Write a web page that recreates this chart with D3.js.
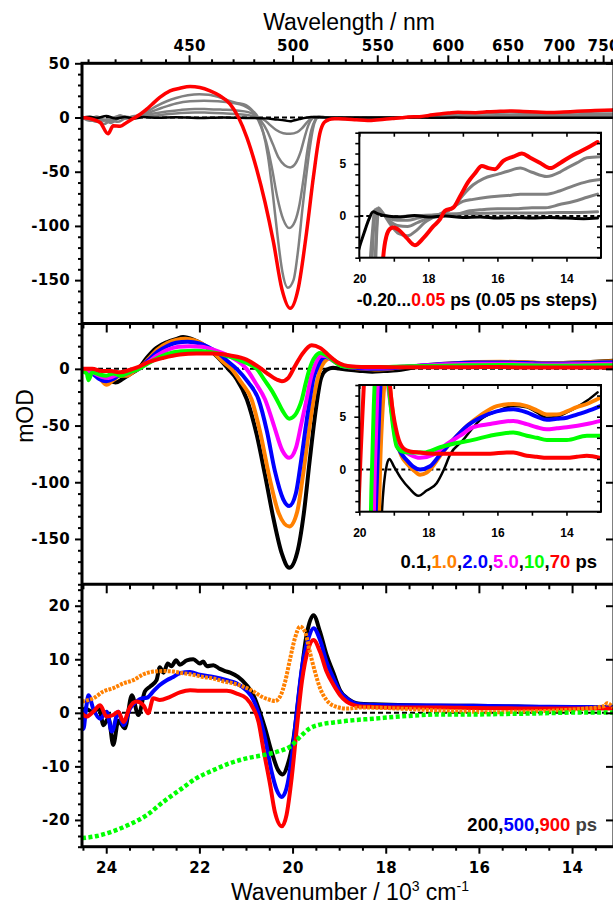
<!DOCTYPE html>
<html><head><meta charset="utf-8">
<script src="https://cdn.jsdelivr.net/npm/d3@7"></script>
<style>
body{margin:0;background:#fff}
svg{display:block}
.tk text{font-family:"DejaVu Sans",sans-serif;font-weight:bold;font-size:15px;letter-spacing:0.3px;fill:#000}
.tk line{stroke:#000;stroke-width:2}
.ti text{font-family:"Liberation Sans",Arial,sans-serif;font-weight:bold;font-size:12px;fill:#000}
.ti line{stroke:#000;stroke-width:1.6}
</style>
</head><body>
<svg id="c" width="613" height="905"></svg>
<script>
// ---------- tick labels ----------
const kMajor = [24, 22, 20, 18, 16, 14];
const lamMajor = [450, 500, 550, 600, 650, 700, 750];
const y1Major = [50, 0, -50, -100, -150];
const y2Major = [0, -50, -100, -150];
const y3Major = [20, 10, 0, -10, -20];
const insetKLabels = [20, 18, 16, 14];
const insetKTicks = [20, 19, 18, 17, 16, 15, 14];
const insetYLabels = [0, 5];

// ---------- panel 1 : -0.20 ... 0.05 ps  ([wavenumber/1e3 cm-1, mOD]) ----------
const p1Black = [[24.52,0],[24.35,0.8],[24.2,-0.5],[24.0,1.5],[23.8,-1],[23.6,0.5],[23.4,-0.8],[23.2,0.4],[22.9,-0.3],[22.5,0.3],[22.0,-0.5],[21.5,0],[21.0,-0.4],[20.6,-0.8],[20.35,-1.8],[20.15,-2.8],[20.05,-3.5],[19.98,-2.8],[19.85,-1.5],[19.72,-0.3],[19.6,0.4],[19.45,0.2],[19.2,0],[18.8,-0.1],[18.4,0.05],[18.0,-0.1],[17.5,0],[17.0,-0.15],[16.5,-0.1],[16.0,-0.2],[15.5,-0.15],[15.0,-0.2],[14.5,-0.15],[14.0,-0.2],[13.5,-0.25],[13.1,-0.2]];
const p1Gray15 = [[24.52,0],[24.35,-1],[24.2,1],[24.05,-2],[23.85,-1],[23.7,2],[23.55,-0.5],[23.4,0.5],[23.2,1],[23.0,1.5],[22.7,3],[22.4,4.2],[22.1,4.6],[21.8,4.5],[21.5,4],[21.2,3.2],[20.95,2.2],[20.75,0.5],[20.6,-2.5],[20.48,-7],[20.35,-11.5],[20.2,-14.5],[20.05,-15],[19.9,-13.5],[19.8,-10],[19.7,-5],[19.62,-1.5],[19.55,0.6],[19.45,0.5],[19.3,0.1],[19.0,-0.1],[18.6,0],[18.2,0.05],[17.8,0.1],[17.2,0.2],[16.6,0.25],[16.0,0.3],[15.4,0.3],[14.8,0.3],[14.2,0.35],[13.6,0.35],[13.1,0.4]];
const p1Gray46 = [[24.52,0],[24.35,-2],[24.2,0],[24.05,-3],[23.9,-1],[23.75,1],[23.6,-1],[23.45,1],[23.25,2],[23.0,3.5],[22.7,5.5],[22.4,7],[22.1,7.8],[21.8,7.7],[21.5,7.2],[21.2,6.5],[20.95,5],[20.8,2],[20.68,-3],[20.55,-12],[20.42,-25],[20.3,-37],[20.17,-44],[20.05,-46],[19.93,-42],[19.83,-32],[19.74,-18],[19.66,-7],[19.58,-1],[19.5,0.7],[19.38,0.3],[19.15,-0.2],[18.9,-0.4],[18.6,-0.4],[18.3,-0.2],[18.0,0],[17.5,0.2],[17.18,0.2],[16.8,0.5],[16.5,0.6],[16.0,0.7],[15.5,0.7],[15.0,0.8],[14.6,0.8],[14.2,1.1],[13.8,1.4],[13.4,1.8],[13.1,2.1]];
const p1Gray102 = [[24.52,0],[24.35,-2],[24.2,-4],[24.05,-2],[23.9,-5],[23.75,-1],[23.6,1],[23.45,0],[23.25,2],[23.05,5],[22.8,9],[22.5,13],[22.2,15],[21.9,15.5],[21.6,15],[21.3,13.5],[21.05,11],[20.9,7],[20.78,1],[20.68,-8],[20.57,-22],[20.45,-45],[20.33,-73],[20.2,-94],[20.07,-102],[19.95,-96],[19.85,-80],[19.76,-55],[19.68,-30],[19.6,-12],[19.52,-2.5],[19.45,0.8],[19.35,0.4],[19.15,-0.4],[18.9,-0.9],[18.6,-1.0],[18.3,-0.6],[18.0,-0.2],[17.66,0],[17.3,0.8],[17.0,1.4],[16.7,1.6],[16.3,1.8],[16.0,1.9],[15.6,2.0],[15.34,2.1],[14.9,2.1],[14.57,2.1],[14.2,2.4],[13.8,2.9],[13.4,3.3],[13.02,3.5]];
const p1Gray158 = [[24.52,0],[24.35,-3],[24.2,-2],[24.05,-6],[23.9,-3],[23.75,-4],[23.6,-1],[23.45,0],[23.3,2],[23.1,6],[22.9,11],[22.7,15],[22.5,18],[22.25,20.5],[22.0,21.5],[21.8,21],[21.6,19],[21.4,16],[21.2,13.5],[21.0,11.5],[20.85,6],[20.74,0],[20.64,-12],[20.53,-35],[20.42,-72],[20.32,-110],[20.22,-142],[20.1,-157],[19.98,-150],[19.88,-122],[19.79,-85],[19.71,-55],[19.63,-28],[19.56,-10],[19.5,-2],[19.43,0.7],[19.3,0.2],[19.1,-0.8],[18.85,-1.7],[18.6,-1.9],[18.35,-1.4],[18.1,-0.6],[17.85,-0.1],[17.6,0.3],[17.28,0.8],[17.0,2.0],[16.7,3.0],[16.4,3.6],[16.0,4.0],[15.7,4.3],[15.34,4.6],[15.0,4.2],[14.57,3.8],[14.2,4.2],[13.99,4.6],[13.7,5.1],[13.41,5.6],[13.02,5.7]];
const p1Red = [[24.52,0],[24.35,-1],[24.13,-4.6],[23.96,-15],[23.85,-7.7],[23.7,-8],[23.56,-4.6],[23.42,-1],[23.27,3],[23.13,7.7],[23.02,12],[22.85,18.5],[22.63,24.6],[22.42,27],[22.2,28.6],[21.99,27.7],[21.77,24.6],[21.56,20],[21.34,12.3],[21.16,0],[20.98,-18.5],[20.77,-47.7],[20.59,-78.4],[20.41,-115],[20.23,-158],[20.05,-176],[19.88,-158],[19.7,-106],[19.55,-54],[19.41,-14],[19.32,-4.5],[19.22,-2],[19.1,-1.2],[19.01,-1.1],[18.87,-1.3],[18.63,-2.1],[18.39,-2.8],[18.14,-2.1],[17.86,-1.0],[17.66,-0.3],[17.52,0.5],[17.28,0.8],[17.08,1.9],[16.84,3.3],[16.65,4.1],[16.45,4.8],[16.26,4.6],[16.07,4.5],[15.83,5.3],[15.54,5.7],[15.29,6.0],[15.05,5.6],[14.76,5.1],[14.47,4.6],[14.18,5.1],[13.89,5.7],[13.6,6.2],[13.31,6.7],[13.1,7.1]];

// ---------- panel 2 : 0.1, 1.0, 2.0, 5.0, 10, 70 ps ----------
const p2Black = [[24.52,0],[24.3,-2],[24.1,-6],[23.95,-10],[23.8,-12],[23.65,-9],[23.5,-5],[23.31,0],[23.13,9.7],[22.92,18.5],[22.7,23.5],[22.49,26.4],[22.35,28],[22.13,25.8],[21.92,21.4],[21.7,14],[21.49,5.3],[21.38,0],[21.2,-9],[20.98,-27],[20.77,-58],[20.59,-94],[20.41,-132],[20.23,-163],[20.07,-175.5],[19.9,-162],[19.76,-128],[19.63,-80],[19.53,-45],[19.47,-27],[19.4,-10],[19.35,-4.5],[19.28,-1.2],[19.2,0.5],[19.13,1.0],[19.0,0.3],[18.8,-0.8],[18.55,-1.8],[18.29,-2.5],[18.05,-2.0],[17.76,-1.3],[17.55,0],[17.37,1.4],[16.99,2.8],[16.75,3.8],[16.5,4.7],[16.02,5.5],[15.54,6.0],[15.15,5.9],[14.86,5.4],[14.57,4.9],[14.28,5.0],[13.99,5.4],[13.7,5.9],[13.41,6.5],[13.1,7.3]];
const p2Orange = [[24.52,-1],[24.35,-3],[24.15,-8],[23.99,-14],[23.85,-10],[23.7,-6],[23.55,-6],[23.4,-2],[23.3,0],[23.1,8.5],[22.9,17],[22.7,22.5],[22.5,25.5],[22.3,26.5],[22.1,25],[21.9,21],[21.7,14.5],[21.5,6.5],[21.31,0],[21.1,-12],[20.88,-27],[20.7,-55],[20.5,-95],[20.3,-127],[20.07,-139],[19.9,-126],[19.78,-95],[19.66,-58],[19.55,-27],[19.47,-10],[19.4,0],[19.32,6],[19.22,9],[19.12,8],[19.02,5],[18.92,2.8],[18.78,1.3],[18.63,0.6],[18.45,0],[18.24,-0.5],[18.05,-0.3],[17.85,0.4],[17.66,1.3],[17.28,2.8],[16.89,4.1],[16.5,5.1],[16.02,6.0],[15.54,6.2],[15.15,6.0],[14.86,5.6],[14.57,5.2],[14.28,5.2],[13.99,5.5],[13.7,5.9],[13.41,6.2],[13.02,6.8]];
const p2Blue = [[24.52,0],[24.3,-4],[24.15,-9],[24.0,-11],[23.85,-9],[23.7,-5],[23.55,-4],[23.4,-1],[23.3,0],[23.1,7.5],[22.9,15],[22.7,20],[22.5,23],[22.25,24],[22.0,22.5],[21.8,19],[21.6,14],[21.4,7],[21.2,0],[20.95,-12],[20.73,-27],[20.55,-55],[20.38,-90],[20.2,-115],[20.07,-121],[19.93,-110],[19.82,-82],[19.72,-52],[19.63,-27],[19.55,-8],[19.48,0],[19.4,7],[19.3,10.5],[19.2,9.5],[19.08,6],[18.92,2.5],[18.78,1.5],[18.63,0.9],[18.45,0.3],[18.24,0],[17.95,0.3],[17.66,1.4],[17.28,2.8],[16.89,4.1],[16.5,4.9],[16.02,5.5],[15.54,5.7],[15.15,5.4],[14.86,5.0],[14.57,4.7],[14.28,4.8],[13.99,4.9],[13.7,5.2],[13.41,5.5],[13.02,6.0]];
const p2Magenta = [[24.52,-1],[24.3,-3],[24.1,-7],[23.95,-8],[23.8,-6],[23.6,-5],[23.45,-2],[23.3,0],[23.1,6],[22.9,12],[22.7,16.5],[22.45,19.5],[22.2,20],[21.95,19.5],[21.7,17],[21.5,14],[21.3,10],[21.1,4.5],[20.99,0],[20.8,-12],[20.59,-27],[20.4,-50],[20.22,-72],[20.07,-78.5],[19.93,-70],[19.82,-50],[19.7,-27],[19.62,-10],[19.55,0],[19.48,7],[19.38,11.5],[19.28,11],[19.15,7.5],[19.0,4],[18.92,2.4],[18.73,1.8],[18.53,1.4],[18.24,1.1],[17.86,1.4],[17.47,2.4],[17.08,3.2],[16.7,4.0],[16.21,4.3],[15.54,4.6],[15.15,4.3],[14.86,4.0],[14.57,3.8],[14.28,3.9],[13.99,4.0],[13.41,4.3],[13.02,4.6]];
const p2Green = [[24.52,-2],[24.42,-4],[24.38,-10],[24.3,-3],[24.15,-5],[24.0,-6],[23.85,-4],[23.7,-6],[23.5,-3],[23.3,0],[23.1,5],[22.9,9.5],[22.7,13],[22.4,15.5],[22.1,16],[21.8,15],[21.5,12.5],[21.34,10.5],[21.15,8],[20.99,5.3],[20.85,2.5],[20.77,0],[20.6,-10],[20.45,-19],[20.34,-27],[20.2,-38],[20.07,-44],[19.95,-41],[19.87,-35],[19.8,-27],[19.72,-13],[19.65,-2],[19.58,6],[19.5,11.5],[19.42,14],[19.3,12.5],[19.15,8],[19.02,4],[18.92,2.2],[18.75,1.7],[18.53,1.6],[18.14,1.6],[17.66,2.1],[17.18,2.5],[16.7,2.8],[16.21,3.2],[15.54,3.5],[15.15,3.2],[14.86,3.0],[14.57,2.8],[14.28,2.8],[13.99,2.8],[13.41,3.2],[13.02,3.2]];
const p2Red = [[24.52,0],[24.3,0],[24.1,-2],[23.9,-2],[23.7,-3],[23.5,-1],[23.35,1],[23.13,5.3],[22.77,9.7],[22.42,12.6],[22.06,13.5],[21.7,13.5],[21.34,11.8],[20.99,8.2],[20.7,0.8],[20.56,-3.5],[20.34,-9.4],[20.23,-10.9],[20.09,-7.9],[19.95,2.3],[19.8,12.6],[19.59,20.8],[19.41,18.5],[19.2,11],[19.05,6],[18.9,3.3],[18.72,2.0],[18.53,1.7],[18.24,1.6],[17.86,1.5],[17.47,1.5],[17.08,1.5],[16.7,1.5],[16.21,1.5],[15.73,1.6],[15.54,1.6],[15.15,1.3],[14.86,1.2],[14.57,1.1],[14.28,1.1],[13.99,1.1],[13.7,1.2],[13.41,1.3],[13.02,1.1]];

// ---------- panel 3 : 200, 500, 900 ps + two reference spectra ----------
const p3Black = [[24.52,-0.3],[24.46,0.8],[24.28,0.2],[24.15,0.8],[24.06,-2.3],[23.95,-1],[23.85,-6.0],[23.74,-1.5],[23.6,-2.9],[23.45,3.3],[23.31,-0.4],[23.17,4.0],[23.06,4.9],[22.92,6.1],[22.85,8.5],[22.77,7.5],[22.68,9.2],[22.6,8.7],[22.5,9.8],[22.42,9.0],[22.27,9.8],[22.13,10.0],[21.99,9.2],[21.92,9.6],[21.84,8.7],[21.7,8.9],[21.56,8.2],[21.45,7.8],[21.34,7.5],[21.17,6.7],[20.99,5.2],[20.84,3.3],[20.73,0.8],[20.59,-2.9],[20.45,-7.3],[20.31,-10.7],[20.21,-11.5],[20.11,-9.8],[19.98,-4.8],[19.84,5.2],[19.7,14.5],[19.55,18.2],[19.41,15.1],[19.27,10.8],[19.12,7.4],[18.98,4.2],[18.84,2.8],[18.7,2.0],[18.55,1.7],[18.27,1.6],[17.55,1.4],[16.83,1.3],[16.12,1.3],[15.4,1.2],[14.69,1.1],[13.97,1.1],[13.12,1.0]];
const p3Blue = [[24.52,0.5],[24.49,-3],[24.43,1],[24.38,3.3],[24.28,0.8],[24.13,-1.1],[23.99,0.2],[23.88,-3.5],[23.74,0.2],[23.63,-2.3],[23.49,0.8],[23.35,2.1],[23.24,2.7],[23.13,2.8],[22.99,4.0],[22.85,5.2],[22.7,6.1],[22.56,6.7],[22.42,7.4],[22.2,7.6],[21.99,7.1],[21.7,6.7],[21.41,6.1],[21.2,5.5],[20.99,4.2],[20.84,2.4],[20.73,-0.1],[20.59,-4.8],[20.45,-11],[20.34,-14.4],[20.23,-15.7],[20.13,-14.1],[20.02,-8.5],[19.91,0.2],[19.8,8.3],[19.66,13.9],[19.55,15.8],[19.41,13.6],[19.27,9.5],[19.12,6.4],[18.98,3.9],[18.84,2.7],[18.7,1.9],[18.55,1.6],[18.27,1.5],[17.55,1.4],[16.83,1.35],[16.12,1.3],[15.4,1.25],[14.69,1.15],[13.97,1.1],[13.12,1.05]];
const p3Red = [[24.52,-0.1],[24.42,-0.7],[24.28,0.2],[24.13,1.4],[23.99,-0.7],[23.85,-0.4],[23.74,0.2],[23.63,-1.7],[23.49,1.1],[23.35,2.1],[23.2,1.4],[23.1,-0.1],[22.99,2.7],[22.85,2.4],[22.63,3.0],[22.42,3.8],[22.2,4.2],[21.99,4.1],[21.7,4.1],[21.41,4.1],[21.2,3.6],[20.99,2.7],[20.84,0.8],[20.73,-1.7],[20.63,-6.6],[20.48,-13.5],[20.38,-18.5],[20.23,-21.2],[20.13,-19.1],[20.02,-12.2],[19.91,-2.9],[19.8,5.8],[19.66,12.0],[19.55,13.6],[19.41,11.4],[19.27,7.7],[19.12,5.2],[18.98,3.3],[18.84,2.1],[18.7,1.5],[18.55,1.2],[18.27,1.1],[17.55,1.0],[16.83,1.0],[16.12,0.9],[15.4,0.85],[14.69,0.8],[13.97,0.8],[13.12,0.8]];
const p3Orange = [[24.52,2.1],[24.42,2.3],[24.28,2.7],[24.06,4.0],[23.85,4.6],[23.63,5.5],[23.42,6.1],[23.2,7.2],[22.99,7.7],[22.77,7.8],[22.56,7.7],[22.35,7.4],[22.13,7.1],[21.92,6.7],[21.7,6.4],[21.49,5.9],[21.27,5.5],[21.06,4.9],[20.84,4.0],[20.66,3.0],[20.48,2.4],[20.38,2.2],[20.27,3.0],[20.16,5.8],[20.05,10.2],[19.95,13.9],[19.84,16.1],[19.73,15.1],[19.63,11.4],[19.52,7.7],[19.41,4.6],[19.27,2.4],[19.05,1.1],[18.84,0.8],[18.5,1.0],[18.0,0.9],[17.5,0.7],[17.0,0.5],[16.5,0.3],[16.12,0.2],[15.7,0.1],[15.2,0.2],[14.69,0.3],[14.2,0.5],[13.7,0.8],[13.3,1.3],[13.25,1.8],[13.12,1.0]];
const p3Green = [[24.52,-23.4],[24.2,-23],[23.85,-22.1],[23.49,-20.8],[23.13,-19.1],[22.77,-16.6],[22.42,-14.4],[22.06,-12.2],[21.7,-10.7],[21.34,-9.4],[20.99,-8.5],[20.63,-7.9],[20.27,-7.1],[20.05,-6.3],[19.84,-4.5],[19.63,-2.9],[19.41,-2.2],[19.12,-1.8],[18.84,-1.5],[18.27,-1.1],[17.55,-0.6],[16.83,-0.3],[16.12,-0.3],[15.4,-0.2],[14.69,-0.1],[13.97,0.05],[13.12,0.05]];

// ---------- legends ----------
const legend1 = [["-0.20...", "#000"], ["0.05", "#ff0000"], [" ps (0.05 ps steps)", "#000"]];
const legend2 = [["0.1,", "#000"], ["1.0", "#ff8000"], [",", "#000"], ["2.0", "#0000ff"], [",", "#000"], ["5.0", "#ff00ff"], [",", "#000"], ["10", "#00ff00"], [",", "#000"], ["70", "#ff0000"], [" ps", "#000"]];
const legend3 = [["200", "#000"], [",", "#000"], ["500", "#0000ff"], [",", "#000"], ["900", "#ff0000"], [" ps", "#404040"]];

// ================= drawing =================
const svg = d3.select("#c");
const L = 82, R = 614;
const P = [
  {top: 63.3, bot: 323.5, dom: [-190, 50], major: y1Major, minorStep: 10},
  {top: 323.5, bot: 584.3, dom: [-190, 40], major: y2Major, minorStep: 10},
  {top: 584.3, bot: 846.7, dom: [-25, 24], major: y3Major, minorStep: 2}
];
const x = d3.scaleLinear().domain([24.52, 13.1]).range([L, R]);
P.forEach(p => p.y = d3.scaleLinear().domain(p.dom).range([p.bot, p.top]));

const defs = svg.append("defs");
function clip(id, x0, y0, w, h) {
  defs.append("clipPath").attr("id", id).append("rect").attr("x", x0).attr("y", y0).attr("width", w).attr("height", h);
}
function clean(g) { g.select(".domain").remove(); }

function drawSeries(g, data, xs, ys, color, width, dash) {
  const line = d3.line().x(d => xs(d[0])).y(d => ys(d[1])).curve(d3.curveMonotoneX);
  const path = g.append("path").datum(data).attr("d", line)
    .attr("fill", "none").attr("stroke", color).attr("stroke-width", width)
    .attr("stroke-linejoin", "round");
  if (dash) path.attr("stroke-dasharray", dash).attr("stroke-linecap", "butt");
  else path.attr("stroke-linecap", "round");
}

const panelSeries = [
  [[p1Gray15,"#808080",2.5],[p1Gray46,"#808080",2.5],[p1Gray102,"#808080",2.5],[p1Gray158,"#808080",2.5],[p1Black,"#000",2.5],[p1Red,"#ff0000",3.5]],
  [[p2Black,"#000",4],[p2Orange,"#ff8000",4],[p2Blue,"#0000ff",4],[p2Magenta,"#ff00ff",4],[p2Green,"#00ff00",4],[p2Red,"#ff0000",4]],
  [[p3Black,"#000",4],[p3Blue,"#0000ff",4],[p3Red,"#ff0000",4],[p3Orange,"#ff8000",4,"3,1.2"],[p3Green,"#00ff00",4.5,"4,2.5"]]
];

P.forEach((p, i) => {
  clip("cp" + i, L, p.top, R - L, p.bot - p.top);
  svg.append("line").attr("x1", L).attr("x2", R).attr("y1", p.y(0)).attr("y2", p.y(0))
    .attr("stroke", "#000").attr("stroke-width", 2).attr("stroke-dasharray", "5,3");
  const g = svg.append("g").attr("clip-path", `url(#cp${i})`);
  panelSeries[i].forEach(s => drawSeries(g, s[0], x, p.y, s[1], s[2], s[3]));
  const minor = d3.range(p.dom[0], p.dom[1] + 0.001, p.minorStep).filter(v => !p.major.includes(v));
  svg.append("g").attr("class", "tk").attr("transform", `translate(${L},0)`)
    .call(d3.axisLeft(p.y).tickValues(minor).tickSize(4).tickFormat("")).call(clean);
  svg.append("g").attr("class", "tk").attr("transform", `translate(${L},0)`)
    .call(d3.axisLeft(p.y).tickValues(p.major).tickSize(7).tickPadding(5).tickFormat(d => String(d))).call(clean);
  svg.append("g").attr("class", "tk").attr("transform", `translate(${R},0)`)
    .call(d3.axisLeft(p.y).tickValues(p.major).tickSize(8).tickFormat("")).call(clean);
});

const kMinor = d3.range(13.5, 24.51, 0.5).filter(v => !kMajor.includes(v));
[P[1].top, P[2].top].forEach(yy => {
  svg.append("g").attr("class", "tk").attr("transform", `translate(0,${yy})`)
    .call(d3.axisBottom(x).tickValues(kMinor).tickSize(5).tickFormat("")).call(clean);
  svg.append("g").attr("class", "tk").attr("transform", `translate(0,${yy})`)
    .call(d3.axisBottom(x).tickValues(kMajor).tickSize(9).tickFormat("")).call(clean);
});
svg.append("g").attr("class", "tk").attr("transform", `translate(0,${P[2].bot})`)
  .call(d3.axisBottom(x).tickValues(kMinor).tickSize(4).tickFormat("")).call(clean);
svg.append("g").attr("class", "tk").attr("transform", `translate(0,${P[2].bot})`)
  .call(d3.axisBottom(x).tickValues(kMajor).tickSize(7).tickPadding(9).tickFormat(d => String(d))).call(clean);

const lamMinor = d3.range(410, 770, 10).filter(v => !lamMajor.includes(v));
svg.append("g").attr("class", "tk").attr("transform", `translate(0,${P[0].top})`)
  .call(d3.axisTop(x).tickValues(lamMinor.map(l => 1e4 / l)).tickSize(4).tickFormat("")).call(clean);
svg.append("g").attr("class", "tk").attr("transform", `translate(0,${P[0].top})`)
  .call(d3.axisTop(x).tickValues(lamMajor.map(l => 1e4 / l)).tickSize(8).tickPadding(4)
    .tickFormat(k => String(Math.round(1e4 / k)))).call(clean);

svg.append("rect").attr("x", L).attr("y", P[0].top).attr("width", R - L).attr("height", P[2].bot - P[0].top)
  .attr("fill", "none").attr("stroke", "#000").attr("stroke-width", 3);
[P[1].top, P[2].top].forEach(yy => svg.append("line").attr("x1", L).attr("x2", R).attr("y1", yy).attr("y2", yy)
  .attr("stroke", "#000").attr("stroke-width", 3));

// ---------- insets ----------
const xi = d3.scaleLinear().domain([20, 13]).range([359.3, 601]);
function inset(id, y0, y1, series) {
  const yi = d3.scaleLinear().domain([-4, 8]).range([y1, y0]);
  const x0 = xi.range()[0], x1 = xi.range()[1];
  svg.append("rect").attr("x", x0).attr("y", y0).attr("width", x1 - x0).attr("height", y1 - y0).attr("fill", "#fff");
  clip(id, x0, y0, x1 - x0, y1 - y0);
  svg.append("line").attr("x1", x0).attr("x2", x1).attr("y1", yi(0)).attr("y2", yi(0))
    .attr("stroke", "#000").attr("stroke-width", 2).attr("stroke-dasharray", "4,3");
  const g = svg.append("g").attr("clip-path", `url(#${id})`);
  series.forEach(s => drawSeries(g, s[0], xi, yi, s[1], s[2], s[3]));
  const yMinor = d3.range(-4, 8.01, 1).filter(v => !insetYLabels.includes(v));
  svg.append("g").attr("class", "ti").attr("transform", `translate(${x0},0)`)
    .call(d3.axisLeft(yi).tickValues(yMinor).tickSize(4).tickFormat("")).call(clean);
  svg.append("g").attr("class", "ti").attr("transform", `translate(${x0},0)`)
    .call(d3.axisLeft(yi).tickValues(insetYLabels).tickSize(5).tickPadding(8).tickFormat(d => String(d))).call(clean);
  svg.append("g").attr("class", "ti").attr("transform", `translate(${x1},0)`)
    .call(d3.axisLeft(yi).tickValues(d3.range(-4, 8.01, 1)).tickSize(4).tickFormat("")).call(clean);
  svg.append("g").attr("class", "ti").attr("transform", `translate(0,${y0})`)
    .call(d3.axisBottom(xi).tickValues(insetKTicks).tickSize(4).tickFormat("")).call(clean);
  svg.append("g").attr("class", "ti").attr("transform", `translate(0,${y1})`)
    .call(d3.axisBottom(xi).tickValues(insetKTicks).tickSize(4).tickPadding(13)
      .tickFormat(d => insetKLabels.includes(d) ? String(d) : "")).call(clean);
  svg.append("rect").attr("x", x0).attr("y", y0).attr("width", x1 - x0).attr("height", y1 - y0)
    .attr("fill", "none").attr("stroke", "#000").attr("stroke-width", 2);
}
inset("ci1", 132.7, 257.7, [[p1Gray15,"#808080",3],[p1Gray46,"#808080",3],[p1Gray102,"#808080",3],[p1Gray158,"#808080",3],[p1Black,"#000",3],[p1Red,"#ff0000",4]]);
inset("ci2", 385, 511.7, [[p2Black,"#000",2.5],[p2Orange,"#ff8000",4],[p2Blue,"#0000ff",4],[p2Magenta,"#ff00ff",4],[p2Green,"#00ff00",4],[p2Red,"#ff0000",4]]);

// ---------- legends ----------
function legend(parts, xEnd, yBase, size) {
  const t = svg.append("text").attr("x", xEnd).attr("y", yBase).attr("text-anchor", "end")
    .style("white-space", "pre").attr("font-family", "Liberation Sans, Arial, sans-serif")
    .attr("font-weight", "bold").attr("font-size", size);
  parts.forEach(p => t.append("tspan").attr("fill", p[1]).text(p[0]));
}
legend(legend1, 597, 306, 17.5);
legend(legend2, 597, 568, 18.5);
legend(legend3, 597, 831, 18.5);

// ---------- axis titles ----------
const tf = "Liberation Sans, Arial, sans-serif";
svg.append("text").attr("x", 349).attr("y", 30).attr("text-anchor", "middle")
  .attr("font-family", tf).attr("font-size", 23).text("Wavelength / nm");
const xt = svg.append("text").attr("x", 350).attr("y", 900).attr("text-anchor", "middle")
  .attr("font-family", tf).attr("font-size", 23);
xt.append("tspan").text("Wavenumber / 10");
xt.append("tspan").attr("dy", -9).attr("font-size", 14).text("3");
xt.append("tspan").attr("dy", 9).text(" cm");
xt.append("tspan").attr("dy", -9).attr("font-size", 14).text("-1");
svg.append("text").attr("transform", "translate(33,416) rotate(-90)").attr("text-anchor", "middle")
  .attr("font-family", tf).attr("font-size", 23).text("mOD");
</script>
</body></html>
